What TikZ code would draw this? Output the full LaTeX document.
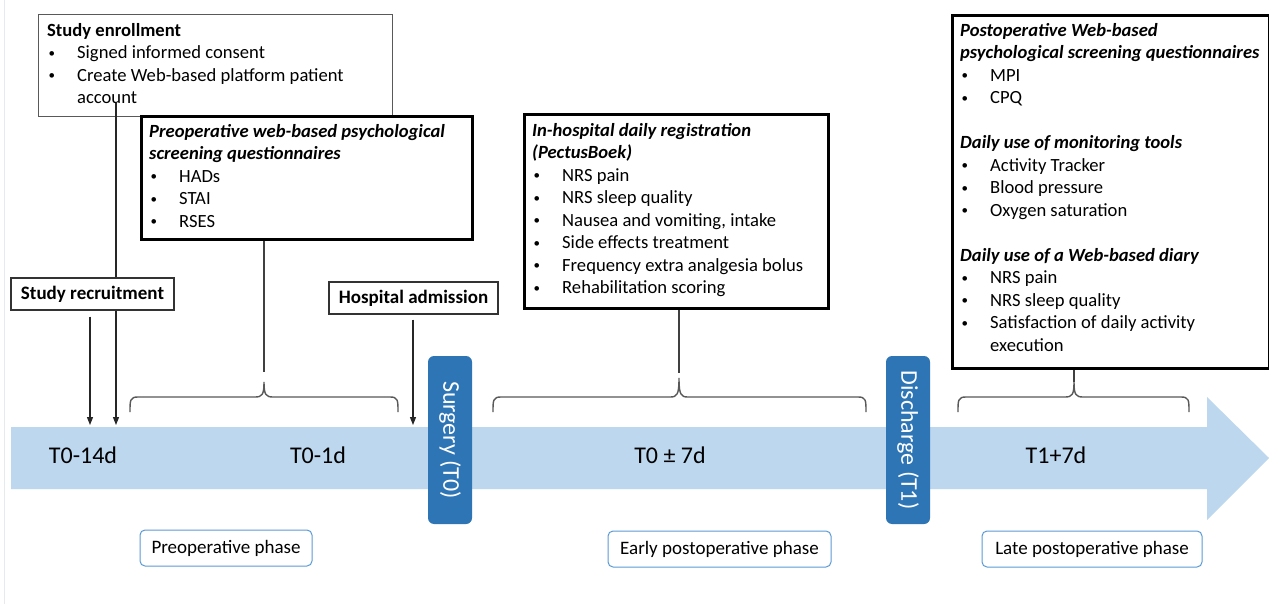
\documentclass[tikz,border=0pt]{standalone}
\usepackage{fontspec}
\setmainfont{Carlito}
\usetikzlibrary{arrows.meta}
\definecolor{bandblue}{HTML}{BDD7EE}
\definecolor{milblue}{HTML}{2E75B6}
\definecolor{phaseblue}{HTML}{5B9BD5}
\definecolor{bracegray}{HTML}{595959}
\definecolor{edgegray}{HTML}{E6E9EE}
\newcommand{\smbullet}{\raisebox{1.5pt}{\fontsize{13}{13}\selectfont\textbullet}}
\newcommand{\bitem}[1]{\makebox[30pt][l]{\hspace{1.5pt}\smbullet}#1}
\newcommand{\fstrut}{\rule{0pt}{15pt}}
\newcommand{\tlbrace}[4]{%
  \draw[bracestyle] (#1,412) .. controls (#1,400) and (#1,397) .. (#1+8,397)
    -- (#3-9,397) .. controls (#3-2,397) and (#3,395) .. (#3,#4)
    .. controls (#3,395) and (#3+2,397) .. (#3+9,397)
    -- (#2-8,397) .. controls (#2,397) and (#2,400) .. (#2,412);}
\begin{document}
\begin{tikzpicture}[x=1pt,y=-1pt,
  bodytxt/.style={inner sep=0pt, align=left, anchor=north west, font=\fontsize{18.6}{22.5}\selectfont},
  thinbox/.style={draw=black!65, line width=1.2pt, fill=white, anchor=north west, inner sep=0pt},
  thickbox/.style={draw=black, line width=3pt, fill=white, anchor=north west, inner sep=0pt},
  eventbox/.style={draw=black!80, line width=1.4pt, fill=white, inner sep=0pt, font=\bfseries\fontsize{19}{22}\selectfont},
  milestone/.style={fill=milblue, rounded corners=6pt, text=white, inner sep=0pt, rotate=-90, minimum width=168pt, minimum height=44pt, font=\fontsize{24}{28}\selectfont},
  phasebox/.style={draw=phaseblue, line width=1pt, rounded corners=5pt, fill=white, inner sep=0pt, minimum height=36pt, font=\fontsize{19}{22}\selectfont},
  bandlabel/.style={anchor=base, inner sep=0pt, font=\fontsize{24}{28}\selectfont},
  arr/.style={draw=black!85, line width=1.1pt, -{Triangle[length=8pt,width=6pt]}},
  bracestyle/.style={draw=bracegray, line width=1.4pt},
  link/.style={draw=black!75, line width=1.1pt}
]
\useasboundingbox (0,0) rectangle (1269,604);
\fill[white] (0,0) rectangle (1269,604);
\draw[edgegray, line width=1pt] (4,0) -- (4,604);

% timeline band
\fill[bandblue] (11,427) -- (1207,427) -- (1207,397) -- (1269,458) -- (1207,520) -- (1207,489) -- (11,489) -- cycle;
\node[bandlabel] (lab1) at (83,463) {T0-14d};
\node[bandlabel] (lab2) at (318,463) {T0-1d};
\node[bandlabel] (lab3) at (670,463) {T0 \textpm{} 7d};
\node[bandlabel] (lab4) at (1056,463) {T1+7d};

% braces
\tlbrace{130}{398}{264}{382}
\tlbrace{493}{866}{679}{378}
\tlbrace{958}{1189}{1074}{382}
\coordinate (tipP) at (264,372);
\coordinate (tipE) at (679,373);
\coordinate (tipL) at (1074,382);

% study enrollment
\node[thinbox, minimum width=354pt, minimum height=102pt] (enroll) at (38,14) {};
\node[bodytxt] (enrollT) at (47,21) {\fstrut\textbf{Study enrollment}\\
  \bitem{Signed informed consent}\\
  \bitem{Create Web-based platform patient}\\
  \hspace*{30pt}account};
\coordinate (tB) at (116,425);
\draw[arr] (116,103) -- (tB);

% preoperative questionnaires
\node[thickbox, minimum width=331pt, minimum height=123pt] (preop) at (140,115) {};
\node[bodytxt] (preopT) at (149,122) {\fstrut\textbf{\itshape Preoperative web-based psychological}\\
  \textbf{\itshape screening questionnaires}\\
  \bitem{HADs}\\
  \bitem{STAI}\\
  \bitem{RSES}};
\draw[link] (preop.south -| tipP) -- (tipP);

% in-hospital registration
\node[thickbox, minimum width=304pt, minimum height=194pt] (inhosp) at (523,113) {};
\node[bodytxt] (inhospT) at (532,121) {\fstrut\textbf{\itshape In-hospital daily registration}\\
  \textbf{\itshape (PectusBoek)}\\
  \bitem{NRS pain}\\
  \bitem{NRS sleep quality}\\
  \bitem{Nausea and vomiting, intake}\\
  \bitem{Side effects treatment}\\
  \bitem{Frequency extra analgesia bolus}\\
  \bitem{Rehabilitation scoring}};
\draw[link] (inhosp.south -| tipE) -- (tipE);

% postoperative
\node[thickbox, minimum width=317pt, minimum height=353pt] (post) at (951,14) {};
\node[bodytxt] (postT) at (960,21) {\fstrut\textbf{\itshape Postoperative Web-based}\\
  \textbf{\itshape psychological screening questionnaires}\\
  \bitem{MPI}\\
  \bitem{CPQ}\\[22.5pt]
  \textbf{\itshape Daily use of monitoring tools}\\
  \bitem{Activity Tracker}\\
  \bitem{Blood pressure}\\
  \bitem{Oxygen saturation}\\[22.5pt]
  \textbf{\itshape Daily use of a Web-based diary}\\
  \bitem{NRS pain}\\
  \bitem{NRS sleep quality}\\
  \bitem{Satisfaction of daily activity}\\
  \hspace*{30pt}execution};
\draw[link] (post.south -| tipL) -- (tipL);

% event boxes
\node[eventbox, minimum width=163pt, minimum height=32pt] (recr) at (92.5,294) {Study recruitment};
\coordinate (tA) at (90,425);
\draw[arr] ([yshift=-6pt]recr.south -| tA) -- (tA);
\node[eventbox, minimum width=169pt, minimum height=32pt] (hosp) at (413.5,298) {Hospital admission};
\coordinate (tH) at (413,425);
\draw[arr] ([yshift=-5pt]hosp.south -| tH) -- (tH);

% milestones
\node[milestone] (surg) at (450,440) {Surgery (T0)};
\node[milestone] (disch) at (908,440) {Discharge (T1)};

% phases
\node[phasebox, minimum width=172pt] (ph1) at (226,548) {Preoperative phase};
\node[phasebox, minimum width=223pt] (ph2) at (719.5,549) {Early postoperative phase};
\node[phasebox, minimum width=220pt] (ph3) at (1092,549) {Late postoperative phase};
\end{tikzpicture}
\end{document}
